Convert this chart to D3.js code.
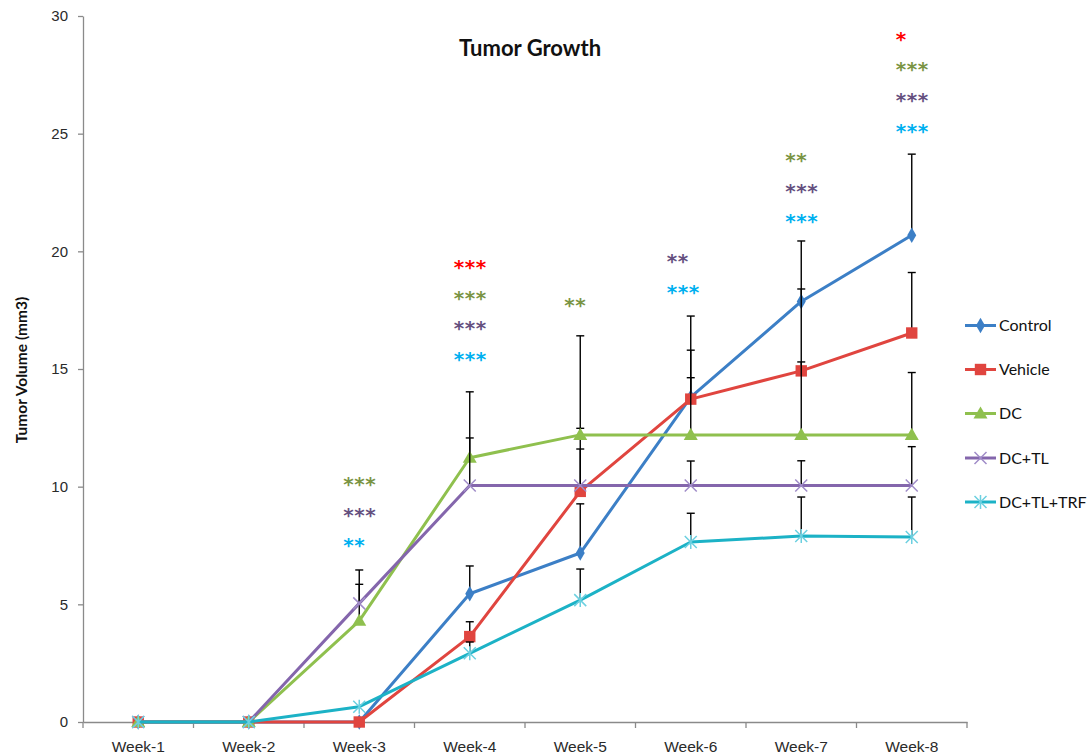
<!DOCTYPE html>
<html>
<head>
<meta charset="utf-8">
<script src="https://cdn.jsdelivr.net/npm/d3@7"></script>
<style>
  html, body { margin: 0; padding: 0; background: #fff; }
  svg { display: block; font-family: Lato, "Open Sans", sans-serif; }
</style>
</head>
<body>
<svg id="chart" width="1088" height="754"></svg>
<script>
// Weekly tumour volume (mm3) per treatment group, with upper error bars
const weeks = ["Week-1", "Week-2", "Week-3", "Week-4", "Week-5", "Week-6", "Week-7", "Week-8"];
const groupNames = ["Control", "Vehicle", "DC", "DC+TL", "DC+TL+TRF"];

const controlMean = [0, 0, 0, 5.45, 7.18, 13.8, 17.87, 20.68];
const controlErr  = [0, 0, 0, 1.18, 2.09, 3.45, 2.57, 3.45];
const vehicleMean = [0, 0, 0, 3.63, 9.8, 13.72, 14.92, 16.53];
const vehicleErr  = [0, 0, 0, 0.63, 6.61, 2.08, 3.48, 2.57];
const dcMean      = [0, 0, 4.3, 11.23, 12.2, 12.2, 12.2, 12.2];
const dcErr       = [0, 0, 2.16, 2.8, 0.28, 2.43, 3.1, 2.65];
const dcTlMean    = [0, 0, 5.04, 10.05, 10.05, 10.05, 10.05, 10.05];
const dcTlErr     = [0, 0, 0.81, 2.02, 1.55, 1.04, 1.05, 1.65];
const dcTlTrfMean = [0, 0, 0.65, 2.92, 5.18, 7.65, 7.9, 7.86];
const dcTlTrfErr  = [0, 0, 0, 0.48, 1.32, 1.22, 1.66, 1.7];

const yTicks = [0, 5, 10, 15, 20, 25, 30];

// Significance marks per week: the value where the first row sits, then rows of [marks, group]
const sigWeeks  = ["Week-3", "Week-4", "Week-5", "Week-6", "Week-7", "Week-8"];
const sigTop    = [10.2, 19.42, 17.82, 19.68, 23.97, 29.12];
const sigRows   = [
  [["***", "DC"], ["***", "DC+TL"], ["**", "DC+TL+TRF"]],
  [["***", "Vehicle"], ["***", "DC"], ["***", "DC+TL"], ["***", "DC+TL+TRF"]],
  [["**", "DC"]],
  [["**", "DC+TL"], ["***", "DC+TL+TRF"]],
  [["**", "DC"], ["***", "DC+TL"], ["***", "DC+TL+TRF"]],
  [["*", "Vehicle"], ["***", "DC"], ["***", "DC+TL"], ["***", "DC+TL+TRF"]]
];

// ---- styling ----
const lineColor   = { "Control": "#3c7fc6", "Vehicle": "#e0453f", "DC": "#8fc04e", "DC+TL": "#8466ac", "DC+TL+TRF": "#1cb2c6" };
const markerColor = { "Control": "#3c7fc6", "Vehicle": "#e0453f", "DC": "#8fc04e", "DC+TL": "#a08cc8", "DC+TL+TRF": "#6cd0e0" };
const starColor   = { "Vehicle": "#ff0000", "DC": "#7a9444", "DC+TL": "#65507f", "DC+TL+TRF": "#00b0f0" };

const groups = [
  { name: "Control",   mean: controlMean, err: controlErr,  symbol: "diamond" },
  { name: "Vehicle",   mean: vehicleMean, err: vehicleErr,  symbol: "square" },
  { name: "DC",        mean: dcMean,      err: dcErr,       symbol: "triangle" },
  { name: "DC+TL",     mean: dcTlMean,    err: dcTlErr,     symbol: "cross" },
  { name: "DC+TL+TRF", mean: dcTlTrfMean, err: dcTlTrfErr,  symbol: "star" }
];

const svg = d3.select("#chart");
const plot = { left: 83, right: 967, top: 16, bottom: 722 };

const x = d3.scaleBand().domain(weeks).range([plot.left, plot.right]);
const cx = w => x(w) + x.bandwidth() / 2;
const y = d3.scaleLinear().domain([0, 30]).range([plot.bottom, plot.top]);

const axisGrey = "#8a8a8a";
const labelColor = "#2a2a2a";

// y axis
const yAxis = svg.append("g")
  .attr("transform", `translate(${plot.left},0)`)
  .call(d3.axisLeft(y).tickValues(yTicks).tickSize(5).tickSizeOuter(0).tickPadding(10));
yAxis.select(".domain").attr("stroke", axisGrey).attr("stroke-width", 1.3);
yAxis.selectAll(".tick line").attr("stroke", axisGrey).attr("stroke-width", 1.3);
yAxis.selectAll(".tick text").attr("fill", labelColor).attr("font-size", 15);

// x axis with category labels
const xAxis = svg.append("g")
  .attr("transform", `translate(0,${plot.bottom})`)
  .call(d3.axisBottom(x).tickSize(0).tickSizeOuter(0).tickPadding(18.5));
xAxis.select(".domain").attr("stroke", axisGrey).attr("stroke-width", 1.6);
xAxis.selectAll(".tick text").attr("fill", labelColor).attr("font-size", 15.5);

// tick marks between categories
const boundaries = weeks.map(w => x(w)).concat([x(weeks[weeks.length - 1]) + x.bandwidth()]);
xAxis.selectAll("line.sep").data(boundaries).enter().append("line")
  .attr("class", "sep")
  .attr("x1", d => d).attr("x2", d => d)
  .attr("y1", 0).attr("y2", 6)
  .attr("stroke", axisGrey).attr("stroke-width", 1.3);

// titles
svg.append("text")
  .attr("x", 530).attr("y", 56)
  .attr("text-anchor", "middle")
  .attr("font-size", 22).attr("font-weight", "bold").attr("fill", "#111")
  .text("Tumor Growth");

svg.append("text")
  .attr("transform", `translate(27,${(plot.top + plot.bottom) / 2 + 1}) rotate(-90)`)
  .attr("text-anchor", "middle")
  .attr("font-size", 15.5).attr("font-weight", "bold").attr("fill", "#111")
  .text("Tumor Volume (mm3)");

// marker drawing
function drawMarker(sel, symbol, color) {
  if (symbol === "diamond") {
    sel.append("path").attr("d", d3.symbol(d3.symbolDiamond, 70)()).attr("fill", color);
  } else if (symbol === "square") {
    sel.append("path").attr("d", d3.symbol(d3.symbolSquare, 130)()).attr("fill", color);
  } else if (symbol === "triangle") {
    sel.append("path").attr("d", d3.symbol(d3.symbolTriangle, 85)()).attr("fill", color).attr("transform", "translate(0,1)");
  } else if (symbol === "cross") {
    sel.append("path").attr("d", "M-6,-6L6,6M-6,6L6,-6").attr("stroke", color).attr("stroke-width", 1.5).attr("fill", "none");
  } else if (symbol === "star") {
    sel.append("path").attr("d", "M-6,-6L6,6M-6,6L6,-6M0,-7L0,7").attr("stroke", color).attr("stroke-width", 1.5).attr("fill", "none");
  }
}

const line = d3.line().x(d => cx(d.week)).y(d => y(d.value));

groups.forEach(g => {
  const pts = weeks.map((w, i) => ({ week: w, value: g.mean[i], err: g.err[i] }));
  const layer = svg.append("g").attr("class", "series");

  // upper error bars
  const eb = layer.selectAll("g.err").data(pts.filter(p => p.err > 0)).enter().append("g").attr("class", "err");
  eb.append("line")
    .attr("x1", d => cx(d.week)).attr("x2", d => cx(d.week))
    .attr("y1", d => y(d.value)).attr("y2", d => y(d.value + d.err))
    .attr("stroke", "#000").attr("stroke-width", 1.4);
  eb.append("line")
    .attr("x1", d => cx(d.week) - 4).attr("x2", d => cx(d.week) + 4)
    .attr("y1", d => y(d.value + d.err)).attr("y2", d => y(d.value + d.err))
    .attr("stroke", "#000").attr("stroke-width", 1.4);

  layer.append("path")
    .datum(pts)
    .attr("d", line)
    .attr("fill", "none")
    .attr("stroke", lineColor[g.name])
    .attr("stroke-width", 3)
    .attr("stroke-linejoin", "round");

  layer.selectAll("g.mk").data(pts).enter().append("g")
    .attr("class", "mk")
    .attr("transform", d => `translate(${cx(d.week)},${y(d.value)})`)
    .each(function () { drawMarker(d3.select(this), g.symbol, markerColor[g.name]); });
});

// significance asterisks
const sigLayer = svg.append("g").attr("class", "significance");
sigWeeks.forEach((w, k) => {
  sigRows[k].forEach((row, r) => {
    sigLayer.append("text")
      .attr("x", cx(w) - 16 + (w === "Week-6" ? -8 : 0))
      .attr("y", y(sigTop[k]) + r * 30.7 + 9)
      .attr("font-family", "'DejaVu Sans', sans-serif")
      .attr("font-size", 20).attr("font-weight", "bold")
      .attr("letter-spacing", 0.5)
      .attr("fill", starColor[row[1]])
      .text(row[0]);
  });
});

// legend
const legend = svg.append("g").attr("class", "legend");
const legendY = [325.5, 369.5, 413.5, 458, 502];
groups.forEach((g, i) => {
  const item = legend.append("g").attr("transform", `translate(965,${legendY[i]})`);
  item.append("line").attr("x1", 0).attr("x2", 31).attr("y1", 0).attr("y2", 0)
    .attr("stroke", lineColor[g.name]).attr("stroke-width", 3);
  const m = item.append("g").attr("transform", "translate(15.5,0)");
  drawMarker(m, g.symbol, markerColor[g.name]);
  item.append("text").attr("x", 34).attr("y", 0).attr("dy", "0.36em")
    .attr("font-size", 16).attr("fill", "#111").text(g.name);
});
</script>
</body>
</html>
